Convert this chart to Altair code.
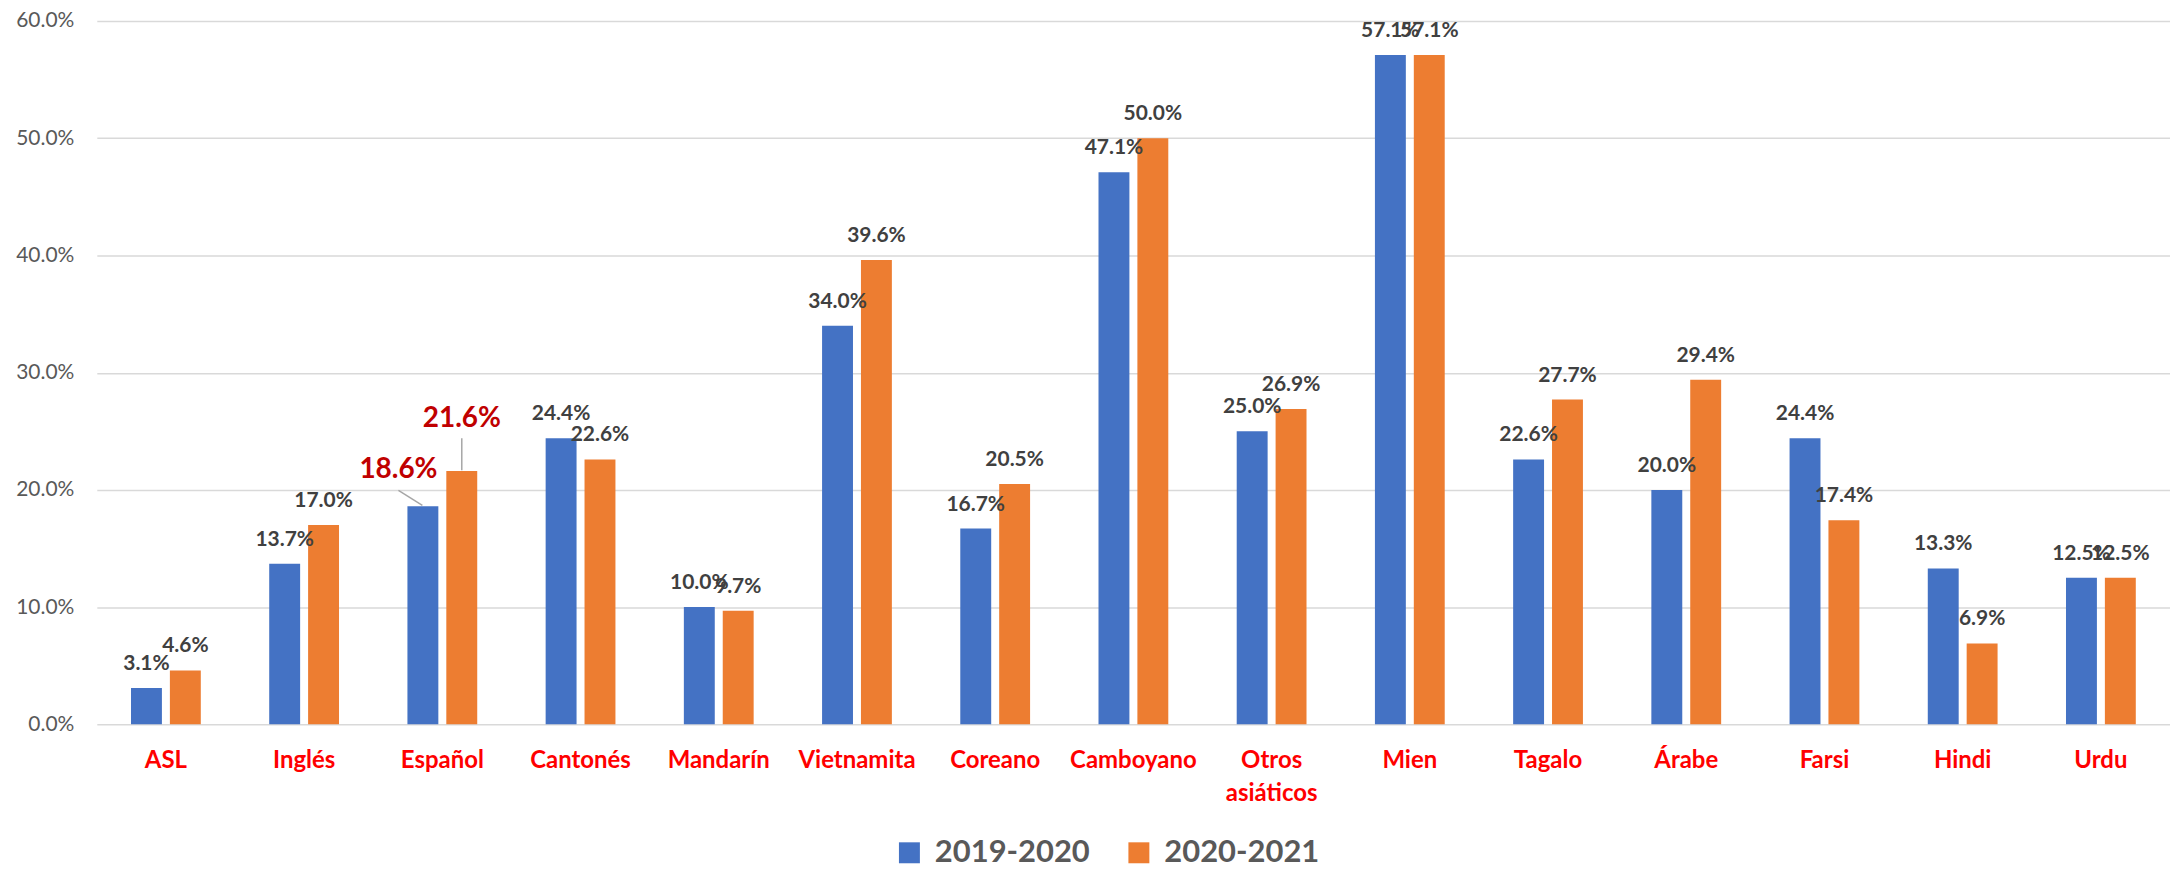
import altair as alt
import pandas as pd

categories = ["ASL", "Inglés", "Español", "Cantonés", "Mandarín", "Vietnamita", "Coreano",
              "Camboyano", "Otros asiáticos", "Mien", "Tagalo", "Árabe", "Farsi", "Hindi", "Urdu"]
series = ["2019-2020", "2020-2021"]
values_2019_2020 = [3.1, 13.7, 18.6, 24.4, 10.0, 34.0, 16.7, 47.1, 25.0, 57.1, 22.6, 20.0, 24.4, 13.3, 12.5]
values_2020_2021 = [4.6, 17.0, 21.6, 22.6, 9.7, 39.6, 20.5, 50.0, 26.9, 57.1, 27.7, 29.4, 17.4, 6.9, 12.5]
y_ticks = [0.0, 0.1, 0.2, 0.3, 0.4, 0.5, 0.6]
highlight = "Español"
colors = ["#4472C4", "#ED7D31"]

rows = []
for c, a, b in zip(categories, values_2019_2020, values_2020_2021):
    rows.append({"cat": c, "series": series[0], "value": a / 100})
    rows.append({"cat": c, "series": series[1], "value": b / 100})
df = pd.DataFrame(rows)

FONT = "Lato"

x_enc = alt.X(
    "cat:N", sort=categories,
    scale=alt.Scale(paddingInner=0.495, paddingOuter=0.2475),
    axis=alt.Axis(
        title=None, labelAngle=0, domain=False, ticks=False, grid=False,
        labelColor="#FF0000", labelFont=FONT, labelFontWeight="bold", labelFontSize=24,
        labelPadding=24, labelLineHeight=33, labelOverlap=False,
        labelExpr="datum.label == 'Otros asiáticos' ? ['Otros', 'asiáticos'] : datum.label",
    ),
)
y_enc = alt.Y(
    "value:Q",
    scale=alt.Scale(domain=[0, 0.6], nice=False),
    axis=alt.Axis(
        title=None, format=".1%", values=y_ticks, domain=False, ticks=False,
        labelColor="#595959", labelFont=FONT, labelFontSize=21, labelPadding=23,
        gridColor="#D9D9D9", gridWidth=1.5,
    ),
)
xoff = alt.XOffset("series:N", sort=series, scale=alt.Scale(paddingInner=0.205, paddingOuter=0))

base = alt.Chart(df)

bars = base.mark_bar().encode(
    x=x_enc, y=y_enc, xOffset=xoff,
    color=alt.Color(
        "series:N",
        scale=alt.Scale(domain=series, range=colors),
        legend=alt.Legend(
            title=None, orient="none", legendX=799, legendY=818, direction="horizontal",
            symbolType="square", symbolSize=441, symbolStrokeWidth=0,
            labelFont=FONT, labelFontWeight="bold", labelFontSize=31, labelColor="#595959",
            labelOffset=10, columnPadding=33, labelLimit=400,
        ),
    ),
)

labels = base.transform_filter(alt.datum.cat != highlight).mark_text(
    font=FONT, fontWeight="bold", fontSize=21, color="#404040", baseline="alphabetic", dy=-18
).encode(
    x=alt.X("cat:N", sort=categories), xOffset=xoff, y="value:Q",
    text=alt.Text("value:Q", format=".1%"),
)

hl_a = base.transform_filter(
    (alt.datum.cat == highlight) & (alt.datum.series == series[0])
)
hl_b = base.transform_filter(
    (alt.datum.cat == highlight) & (alt.datum.series == series[1])
)

red_a = hl_a.mark_text(
    font=FONT, fontWeight="bold", fontSize=28, color="#C00000", baseline="alphabetic", dx=-44, dy=-28
).encode(x=alt.X("cat:N", sort=categories), y="value:Q", text=alt.Text("value:Q", format=".1%"))

red_b = hl_b.mark_text(
    font=FONT, fontWeight="bold", fontSize=28, color="#C00000", baseline="alphabetic", dx=19.5, dy=-44
).encode(x=alt.X("cat:N", sort=categories), y="value:Q", text=alt.Text("value:Q", format=".1%"))

lead_a = hl_a.mark_rule(
    color="#A6A6A6", strokeWidth=1.5, xOffset=-44, x2Offset=-20, yOffset=-16, y2Offset=-1
).encode(
    x=alt.X("cat:N", sort=categories, bandPosition=0.5),
    x2=alt.X2("cat"),
    y="value:Q", y2=alt.Y2("value"),
)

lead_b = hl_b.mark_rule(
    color="#A6A6A6", strokeWidth=1.5, xOffset=19.5, yOffset=-33, y2Offset=-1
).encode(
    x=alt.X("cat:N", sort=categories),
    y="value:Q", y2=alt.Y2("value"),
)

chart = alt.layer(bars, labels, lead_a, lead_b, red_a, red_b).properties(
    width=2078, height=705,
    autosize=alt.AutoSizeParams(type="none"),
    padding={"left": 89, "top": 12, "right": 0, "bottom": 144},
    background="white",
).configure_view(stroke=None)

chart.save("out.html", embed_options={"renderer": "svg", "actions": False})
